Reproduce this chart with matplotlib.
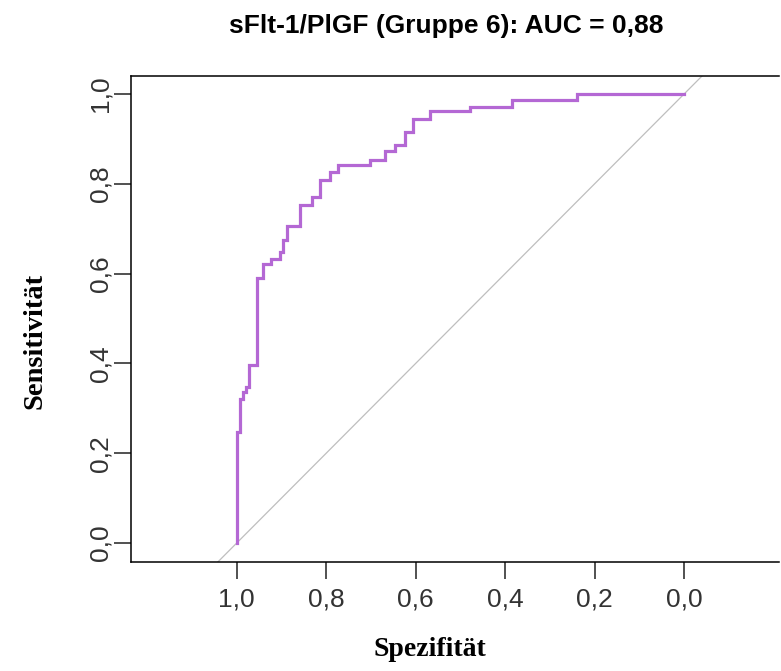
import matplotlib
matplotlib.use("Agg")
import matplotlib.pyplot as plt
import numpy as np

# ROC curve vertices, drawn as steps
spez = [1.0, 1.0, 0.993, 0.985, 0.979, 0.972, 0.955, 0.941, 0.924, 0.903,
        0.896, 0.887, 0.858, 0.832, 0.814, 0.791, 0.773, 0.702, 0.668, 0.646,
        0.624, 0.605, 0.568, 0.478, 0.384, 0.240, 0.0]
sens = [0.0, 0.248, 0.322, 0.337, 0.347, 0.396, 0.590, 0.621, 0.632, 0.649,
        0.675, 0.707, 0.753, 0.770, 0.808, 0.827, 0.842, 0.854, 0.872, 0.886,
        0.916, 0.944, 0.961, 0.972, 0.987, 1.0, 1.0]

ticks = [1.0, 0.8, 0.6, 0.4, 0.2, 0.0]
tick_labels = ["1,0", "0,8", "0,6", "0,4", "0,2", "0,0"]
yticks = [0.0, 0.2, 0.4, 0.6, 0.8, 1.0]
ytick_labels = ["0,0", "0,2", "0,4", "0,6", "0,8", "1,0"]

title = "sFlt-1/PlGF (Gruppe 6): AUC = 0,88"

W, H = 781, 671
fig = plt.figure(figsize=(W / 100, H / 100), dpi=100)
ax = fig.add_axes([131 / W, 1 - 562 / H, 648 / W, 486 / H])

# diagonal reference line (abline)
diag = np.array([-0.3, 1.3])
ax.plot(diag, 1 - diag, color="#bebebe", lw=0.9, zorder=1)

ax.plot(spez, sens, drawstyle="steps-post", color="#b468d4", lw=2.3,
        solid_joinstyle="miter", zorder=2)

ax.set_xlim(1.236, -0.212)
ax.set_ylim(-0.042, 1.040)

for s in ax.spines.values():
    s.set_linewidth(1.1)
ax.spines["right"].set_visible(False)

ax.set_xticks(ticks)
ax.set_xticklabels(tick_labels)
ax.set_yticks(yticks)
ax.set_yticklabels(ytick_labels, rotation=90, va="center")
ax.tick_params(length=12, width=1.1, labelsize=19, colors="#222222")
ax.tick_params(axis="x", pad=6)
ax.tick_params(axis="y", pad=1)
for lab in ax.get_xticklabels() + ax.get_yticklabels():
    lab.set_fontfamily("Liberation Sans")
    lab.set_color("#333333")

fig.text(446 / W, 1 - 26 / H, title, ha="center", va="center",
         fontsize=19, fontweight="bold", family="Liberation Sans")
fig.text(430 / W, 1 - 650 / H, "Spezifität", ha="center", va="center",
         fontsize=20, fontweight="bold", family="Liberation Serif")
fig.text(35 / W, 1 - 341 / H, "Sensitivität", ha="center", va="center",
         rotation=90, fontsize=20.5, fontweight="bold", family="Liberation Serif")

fig.savefig("out.png", dpi=100)
